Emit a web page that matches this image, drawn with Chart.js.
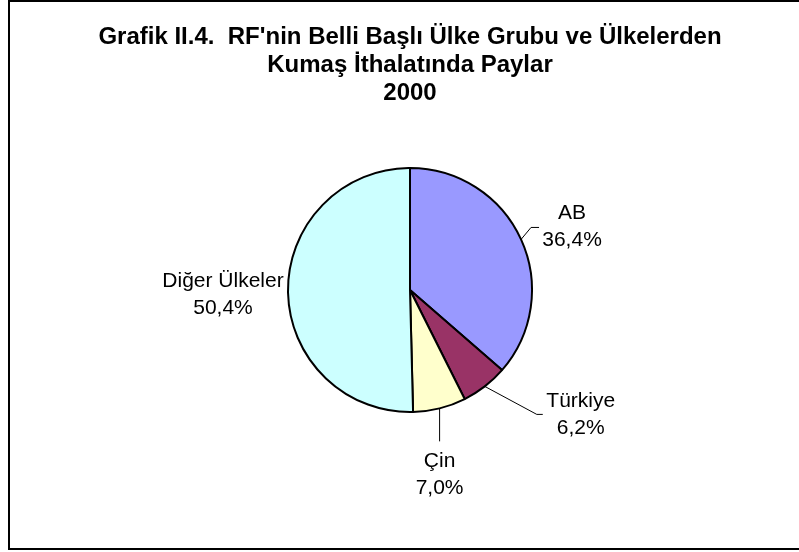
<!DOCTYPE html>
<html lang="tr">
<head>
  <meta charset="UTF-8" />
  <title>Grafik II.4 – RF Kumaş İthalatında Paylar 2000</title>
  <script src="https://cdn.jsdelivr.net/npm/chart.js"></script>
  <style>
    html, body { margin: 0; padding: 0; background: #fff; }
    #wrap { width: 799px; height: 552px; }
  </style>
</head>
<body>
  <div id="wrap"><canvas id="pieChart" width="799" height="552"></canvas></div>

  <script>
    // data
    const countries = ["AB", "Türkiye", "Çin", "Diğer Ülkeler"];
    const shares = [36.4, 6.2, 7.0, 50.4];
    const sliceColors = ["#9999FF", "#993366", "#FFFFCC", "#CCFFFF"];
    const titleLines = [
      "Grafik II.4.  RF'nin Belli Başlı Ülke Grubu ve Ülkelerden",
      "Kumaş İthalatında Paylar",
      "2000"
    ];

    // label placement, relative to the slice edge point (style only)
    const labelStyle = [
      { text: [51, -28], leader: [[10, -12], [18, -12]] },
      { text: [96, 13], leader: [[52, 28], [58, 28]] },
      { text: [0, 51], leader: [[0, 33]] },
      { text: [-65, -12], leader: null }
    ];

    const FONT = "'Liberation Sans', Arial, sans-serif";

    const framePlugin = {
      id: "frame",
      beforeDraw(chart) {
        const ctx = chart.ctx;
        ctx.save();
        ctx.fillStyle = "#fff";
        ctx.fillRect(0, 0, chart.width, chart.height);
        ctx.strokeStyle = "#000";
        ctx.lineWidth = 2;
        ctx.strokeRect(9, 1, 820, 548);
        ctx.restore();
      },
      afterDraw(chart) {
        const ctx = chart.ctx;
        ctx.save();
        // title
        ctx.fillStyle = "#000";
        ctx.textAlign = "center";
        ctx.textBaseline = "alphabetic";
        ctx.font = "bold 24px " + FONT;
        titleLines.forEach((t, i) => ctx.fillText(t, 410, 44 + i * 28));

        // slice labels with leader lines
        const meta = chart.getDatasetMeta(0);
        ctx.font = "21px " + FONT;
        meta.data.forEach((arc, i) => {
          const mid = (arc.startAngle + arc.endAngle) / 2;
          const ex = arc.x + Math.cos(mid) * arc.outerRadius;
          const ey = arc.y + Math.sin(mid) * arc.outerRadius;
          const st = labelStyle[i];
          if (st.leader) {
            ctx.strokeStyle = "#000";
            ctx.lineWidth = 1;
            ctx.beginPath();
            ctx.moveTo(ex, ey);
            st.leader.forEach(p => ctx.lineTo(ex + p[0], ey + p[1]));
            ctx.stroke();
          }
          const tx = ex + st.text[0];
          const ty = ey + st.text[1];
          const pct = shares[i].toFixed(1).replace(".", ",") + "%";
          ctx.fillText(countries[i], tx, ty + 7.5);
          ctx.fillText(pct, tx, ty + 7.5 + 27);
        });
        ctx.restore();
      }
    };

    new Chart(document.getElementById("pieChart"), {
      type: "pie",
      data: {
        labels: countries,
        datasets: [{
          data: shares,
          backgroundColor: sliceColors,
          borderColor: "#000",
          borderWidth: 2
        }]
      },
      options: {
        responsive: false,
        animation: false,
        layout: { padding: { left: 287, top: 167, right: 266, bottom: 139 } },
        plugins: {
          legend: { display: false },
          title: { display: false },
          tooltip: { enabled: false }
        }
      },
      plugins: [framePlugin]
    });
  </script>
</body>
</html>
